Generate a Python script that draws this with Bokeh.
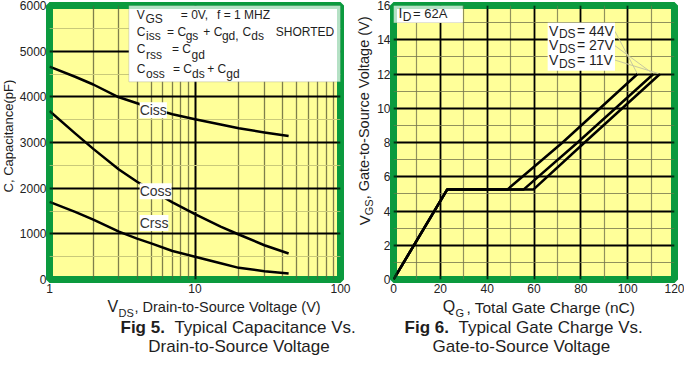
import math
from bokeh.plotting import figure
from bokeh.layouts import row, column
from bokeh.models import Label, BoxAnnotation, FixedTicker, PrintfTickFormatter, Range1d
from bokeh.embed import file_html
from bokeh.resources import INLINE

# ---------------- Fig 5 data (capacitance vs VDS) ----------------
vds = [1, 1.5, 2, 3, 4, 5, 7, 10, 15, 20, 30, 44]
ciss = [4660, 4440, 4270, 3990, 3860, 3750, 3620, 3510, 3395, 3310, 3220, 3140]
coss = [3690, 3200, 2860, 2410, 2140, 1960, 1690, 1430, 1160, 985, 750, 570]
crss = [1700, 1480, 1310, 1050, 895, 790, 625, 500, 355, 255, 183, 130]
cap_names = ["Ciss", "Coss", "Crss"]
cap_xticks = [1, 10, 100]
cap_xminor = [2, 3, 4, 5, 6, 7, 8, 9, 20, 30, 40, 50, 60, 70, 80, 90]
cap_yticks = [0, 1000, 2000, 3000, 4000, 5000, 6000]
cap_yminor = [500, 1500, 2500, 3500, 4500, 5500]

# ---------------- Fig 6 data (gate charge) ----------------
qg_44v = [0, 22.9, 48.6, 72.2, 104.2]
vgs_44v = [0, 5.25, 5.25, 8.0, 12.0]
qg_27v = [0, 22.9, 55.5, 78.6, 111.0]
vgs_27v = [0, 5.25, 5.25, 8.0, 12.0]
qg_11v = [0, 22.9, 59.7, 81.6, 113.8]
vgs_11v = [0, 5.25, 5.25, 8.0, 12.0]
vds_levels = ["44V", "27V", "11V"]
gc_xticks = [0, 20, 40, 60, 80, 100, 120]
gc_xminor = [10, 30, 50, 70, 90, 110]
gc_yticks = [0, 2, 4, 6, 8, 10, 12, 14, 16]
gc_yminor = [1, 3, 5, 7, 9, 11, 13, 15]

YELLOW = "#ffff99"
GREEN = "#0b9a3e"
TXT = "#1e1e1e"
FONT = "Liberation Sans"

TOP_H = 298      # height of the plot row (page y 8..306)
BOT_H = 58       # height of the caption row (page y 306..364)


def lab(p, x, y, text, size, xoff=0, yoff=0, bold=False, align="left",
        baseline="alphabetic", angle=0, bg=None, color=TXT):
    # positions are given for the text baseline; the text is drawn centred on
    # its middle line, which lies about 0.35 em above the baseline
    if baseline == "alphabetic":
        if angle:
            xoff -= 0.35 * size
        else:
            yoff += 0.35 * size
        baseline = "middle"
    kw = dict(x=x, y=y, text=text, x_offset=xoff, y_offset=yoff,
              text_font=FONT, text_font_size=f"{size}px",
              text_font_style="bold" if bold else "normal",
              text_color=color, text_align=align, text_baseline=baseline,
              angle=angle)
    if bg:
        kw["background_fill_color"] = bg
    p.add_layout(Label(**kw))


def blank(w, h):
    f = figure(width=w, height=h, x_range=Range1d(0, w), y_range=Range1d(0, h),
               output_backend="svg", toolbar_location=None, title=None,
               x_axis_location=None, y_axis_location=None,
               min_border=0, outline_line_color=None)
    f.grid.visible = False
    f.background_fill_color = "white"
    f.border_fill_color = "white"
    return f


def style(p, xt, xm, yt, ym):
    p.background_fill_color = YELLOW
    p.border_fill_color = "white"
    p.outline_line_color = GREEN
    p.outline_line_width = 7
    p.xaxis.ticker = FixedTicker(ticks=xt, minor_ticks=xm)
    p.yaxis.ticker = FixedTicker(ticks=yt, minor_ticks=ym)
    for ax in (p.xaxis, p.yaxis):
        ax.axis_line_color = None
        ax.major_tick_line_color = None
        ax.minor_tick_line_color = None
        ax.major_tick_out = 0
        ax.major_tick_in = 0
        ax.minor_tick_out = 0
        ax.minor_tick_in = 0
        ax.major_label_text_font = FONT
        ax.major_label_text_font_size = "12px"
        ax.major_label_text_color = "#222222"
    p.xaxis.major_label_standoff = 4
    p.yaxis.major_label_standoff = 3


# ================= Fig 5 =================  (page x 24..359)
p1 = figure(width=335, height=TOP_H, x_axis_type="log", title=None,
            x_range=Range1d(1, 100), y_range=Range1d(0, 6000),
            output_backend="svg", toolbar_location=None,
            min_border_left=27, min_border_right=11,
            min_border_top=5, min_border_bottom=19)
style(p1, cap_xticks, cap_xminor, cap_yticks, cap_yminor)
p1.xaxis.formatter = PrintfTickFormatter(format="%d")
p1.xgrid.grid_line_color = "black"
p1.xgrid.grid_line_width = 2
p1.xgrid.minor_grid_line_color = "#5f5f38"
p1.xgrid.minor_grid_line_width = 1.3
p1.xgrid.minor_grid_line_alpha = 0.8
p1.ygrid.grid_line_color = "black"
p1.ygrid.grid_line_width = 2
p1.ygrid.minor_grid_line_color = "#c9c97a"
p1.ygrid.minor_grid_line_width = 1

for ys in (ciss, coss, crss):
    p1.line(vds, ys, line_color="black", line_width=2.5, line_join="round")


def lx(px):
    return 10 ** ((px - 51) / 148.5)


def ly(py):
    return (292 - py) * 1000 / 47.6


p1.add_layout(BoxAnnotation(left=lx(132), right=100, bottom=ly(86), top=6000,
                            fill_color="white", fill_alpha=1,
                            line_color="#8a8a8a", line_width=1))
rows5 = [
    (20.5, 25, [(140, "V", 0), (149, "GS", 1), (185, "= 0V,", 0), (222, "f = 1 MHZ", 0)]),
    (38, 43, [(140, "C", 0), (149.5, "iss", 1), (171, "= C", 0), (190, "gs", 1),
              (208, "+ C", 0), (227, "gd,", 1), (248, "C", 0), (257, "ds", 1),
              (282, "SHORTED", 0)]),
    (56.5, 62, [(140, "C", 0), (149.5, "rss", 1), (176, "= C", 0), (196, "gd", 1)]),
    (77, 82.5, [(140, "C", 0), (149.5, "oss", 1), (177, "= C", 0), (196.5, "ds", 1),
                (212, "+ C", 0), (231.5, "gd", 1)]),
]
for bm, bs, pieces in rows5:
    for px, t, sub in pieces:
        lab(p1, lx(px), ly(bs if sub else bm), t, 12)

for name, py in zip(cap_names, [115.5, 200, 233]):
    lab(p1, lx(143), ly(py), name, 14, baseline="middle", bg="white", color="#333333")

p1.add_layout(BoxAnnotation(left=1, right=100, bottom=0, top=6000, fill_color=None,
                            line_color=GREEN, line_width=7, level="overlay"))

# ================= Fig 6 =================  (page x 382..692)
p2 = figure(width=310, height=TOP_H, title=None,
            x_range=Range1d(0, 120), y_range=Range1d(0, 16),
            output_backend="svg", toolbar_location=None,
            min_border_left=17, min_border_right=10,
            min_border_top=5, min_border_bottom=19)
style(p2, gc_xticks, gc_xminor, gc_yticks, gc_yminor)
for g in (p2.xgrid, p2.ygrid):
    g.grid_line_color = "black"
    g.grid_line_width = 1.8
    g.minor_grid_line_color = "#76764e"
    g.minor_grid_line_width = 1.2
    g.minor_grid_line_alpha = 0.8


def rx(px):
    return (px - 405) / 2.4


def ry(py):
    return (293 - py) / 17.875


ends_q = [qg_44v[-1], qg_27v[-1], qg_11v[-1]]
ends_v = [vgs_44v[-1], vgs_27v[-1], vgs_11v[-1]]
p2.segment(x0=[rx(632)] * 3, y0=[ry(34), ry(49), ry(64)], x1=ends_q, y1=ends_v,
           line_color="#c8c8a0", line_width=1)

for qs, vs in ((qg_44v, vgs_44v), (qg_27v, vgs_27v), (qg_11v, vgs_11v)):
    p2.line(qs, vs, line_color="black", line_width=2.5, line_join="round")

p2.add_layout(BoxAnnotation(left=rx(563), right=rx(632), bottom=ry(75), top=ry(25),
                            fill_color="white", fill_alpha=1, line_color=None))
p2.add_layout(BoxAnnotation(left=0, right=rx(476), bottom=ry(25), top=16,
                            fill_color="white", fill_alpha=1, line_color=None))
for lvl, b in zip(vds_levels, [38.3, 53.3, 69]):
    lab(p2, rx(564.5), ry(b), "V", 14)
    lab(p2, rx(574.5), ry(b + 3.3), "DS", 12)
    lab(p2, rx(593), ry(b), "= " + lvl, 14)
lab(p2, rx(410), ry(20), "I", 14)
lab(p2, rx(414.5), ry(23.5), "D", 12)
lab(p2, rx(425), ry(20), "= 62A", 13)

p2.add_layout(BoxAnnotation(left=0, right=120, bottom=0, top=16, fill_color=None,
                            line_color=GREEN, line_width=7, level="overlay"))

# ================= rotated y-axis titles (own narrow panels) =================
yl1 = blank(16, TOP_H)          # page x 8..24
lab(yl1, 13, TOP_H - (150 - 8), "C, Capacitance(pF)", 13, align="center",
    angle=math.pi / 2)

yl2 = blank(23, TOP_H)          # page x 359..382
y0 = TOP_H - (247 - 8)
lab(yl2, 18, y0, "V", 15, angle=math.pi / 2)
lab(yl2, 18, y0, "GS", 11, xoff=3.5, yoff=10.0, angle=math.pi / 2)
lab(yl2, 18, y0, ", Gate-to-Source Voltage (V)", 14.5, yoff=25.9, angle=math.pi / 2)

# ================= captions (own panels below) =================
t1 = blank(358, BOT_H)   # page x 8..366


def c1(px, py):
    return px - 8, BOT_H - (py - 306)


x, y = c1(115, 320); lab(t1, x, y, "V", 16)
x, y = c1(126, 324); lab(t1, x, y, "DS", 11)
x, y = c1(142, 320); lab(t1, x, y, ", Drain-to-Source Voltage (V)", 14.5)
x, y = c1(128, 340.5); lab(t1, x, y, "Fig 5.", 17, bold=True)
lab(t1, x, y, "Typical Capacitance Vs.", 17, xoff=53.9)
x, y = c1(246.5, 360); lab(t1, x, y, "Drain-to-Source Voltage", 17, align="center")

t2 = blank(326, BOT_H)   # page x 366..692


def c2(refx, py):
    page_x = 399.3 + (refx - 405) * 282.7 / 288
    return page_x - 366, BOT_H - (py - 306)


x, y = c2(457, 320); lab(t2, x, y, "Q", 16)
x, y = c2(470, 324); lab(t2, x, y, "G", 11)
x, y = c2(481, 320); lab(t2, x, y, ", Total Gate Charge (nC)", 15.5)
x, y = c2(418, 340.5); lab(t2, x, y, "Fig 6.", 17, bold=True)
lab(t2, x, y, "Typical Gate Charge Vs.", 17, xoff=53.9)
x, y = c2(537, 360); lab(t2, x, y, "Gate-to-Source Voltage", 17, align="center")

layout = column(row(yl1, p1, yl2, p2), row(t1, t2))
open("out.html", "w").write(file_html(layout, INLINE))
